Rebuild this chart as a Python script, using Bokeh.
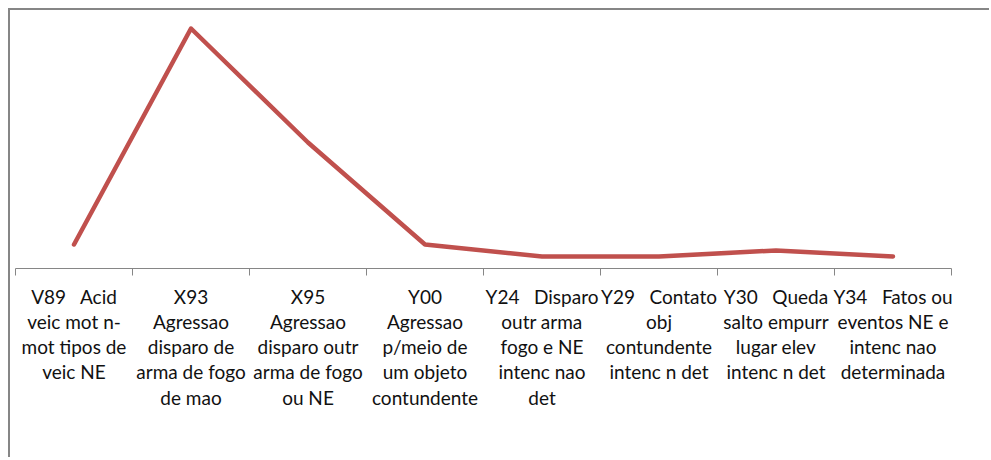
from bokeh.plotting import figure
from bokeh.models import Range1d, FixedTicker
from bokeh.embed import file_html
from bokeh.resources import INLINE

# --- data ---
categories = [
    "V89   Acid veic mot n-mot tipos de veic NE",
    "X93 Agressao disparo de arma de fogo de mao",
    "X95 Agressao disparo outr arma de fogo ou NE",
    "Y00 Agressao p/meio de um objeto contundente",
    "Y24   Disparo outr arma fogo e NE intenc nao det",
    "Y29   Contato obj contundente intenc n det",
    "Y30   Queda salto empurr lugar elev intenc n det",
    "Y34   Fatos ou eventos NE e intenc nao determinada",
]
S = "\u00a0\u00a0\u00a0"
tick_labels = [
    "V89" + S + "Acid\nveic mot n-\nmot tipos de\nveic NE",
    "X93\nAgressao\ndisparo de\narma de fogo\nde mao",
    "X95\nAgressao\ndisparo outr\narma de fogo\nou NE",
    "Y00\nAgressao\np/meio de\num objeto\ncontundente",
    "Y24" + S + "Disparo\noutr arma\nfogo e NE\nintenc nao\ndet",
    "Y29" + S + "Contato\nobj\ncontundente\nintenc n det",
    "Y30" + S + "Queda\nsalto empurr\nlugar elev\nintenc n det",
    "Y34" + S + "Fatos ou\neventos NE e\nintenc nao\ndeterminada",
]
values = [4, 40, 21, 4, 2, 2, 3, 2]

n = len(categories)
xs = [i + 0.5 for i in range(n)]

p = figure(
    width=981, height=449,
    x_range=Range1d(0, n), y_range=Range1d(0, 42),
    y_axis_location=None,
    output_backend="svg", toolbar_location=None,
    min_border_left=5, min_border_right=40,
    min_border_top=6, min_border_bottom=191,
)
p.styles = {
    "margin-left": "8px", "margin-top": "8px",
    "border-left": "2px solid #868686", "border-top": "2px solid #868686",
}
p.outline_line_color = None
p.xgrid.visible = False
p.ygrid.visible = False
p.background_fill_color = "white"
p.border_fill_color = "white"

p.line(xs, values, line_color="#C0504D", line_width=4.5,
       line_join="round", line_cap="round")

ax = p.xaxis[0]
ax.ticker = FixedTicker(ticks=xs, minor_ticks=list(range(n + 1)))
ax.major_label_overrides = {x: lab for x, lab in zip(xs, tick_labels)}
ax.axis_line_color = "#868686"
ax.axis_line_width = 1
ax.major_tick_in = 0
ax.major_tick_out = 0
ax.minor_tick_in = 0
ax.minor_tick_out = 7
ax.minor_tick_line_color = "#868686"
ax.minor_tick_line_width = 1
ax.major_label_text_font = "Lato"
ax.major_label_text_font_size = "19px"
ax.major_label_text_color = "#111111"
ax.major_label_text_line_height = 1.1
ax.major_label_standoff = 9

open("out.html", "w").write(file_html(p, INLINE))
